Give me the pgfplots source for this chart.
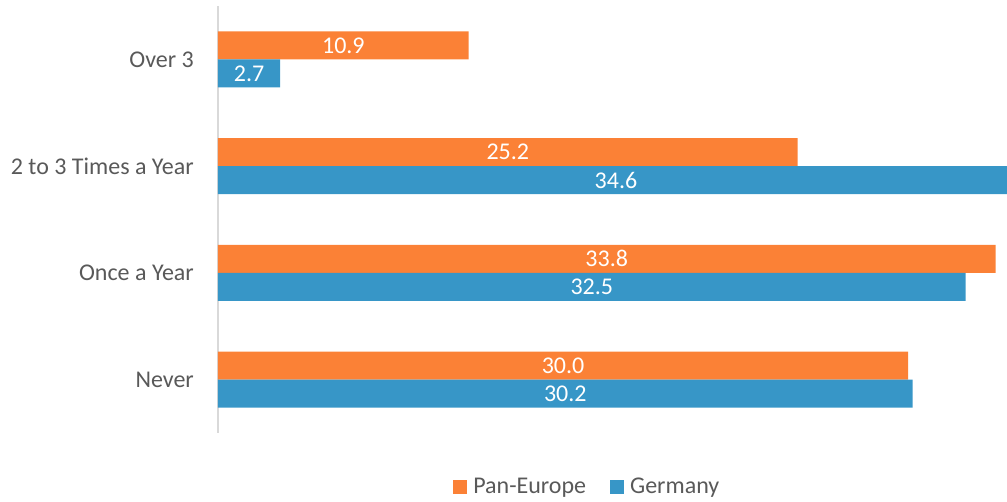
\documentclass[border=0pt]{standalone}
\usepackage{pgfplots}
\pgfplotsset{compat=1.18}
\usepackage{pgfplotstable}
\usepackage{fontspec}
\setmainfont{Carlito}
\definecolor{paneu}{HTML}{FB8136}
\definecolor{germ}{HTML}{3796C7}
\definecolor{txtgray}{HTML}{595959}
\definecolor{axgray}{HTML}{D9D9D9}

% pos: 3 = top category
\pgfplotstableread{
pos pan ger
3 10.9 2.7
2 25.2 34.6
1 33.8 32.5
0 30.0 30.2
}\freq

\begin{document}
\begin{tikzpicture}[font=\fontsize{24}{28}\selectfont]
\path[use as bounding box] (0,0) rectangle (1007pt,502pt);
\begin{axis}[
    at={(218pt,69pt)}, anchor=south west,
    scale only axis,
    width=789pt, height=427pt,
    xmin=0, xmax=34.3,
    ymin=-0.5, ymax=3.5,
    axis x line=none,
    axis y line*=left,
    y axis line style={-, draw=axgray, line width=1.5pt},
    ytick={0,1,2,3},
    yticklabels={Never, Once a Year, 2 to 3 Times a Year, Over 3},
    major tick length=0pt,
    yticklabel style={anchor=east, inner sep=0pt, xshift=-24pt, text=txtgray, font=\fontsize{24}{28}\selectfont},
    /pgf/number format/assume math mode=true,
    legend style={at={(0.468,-0.126)}, anchor=center, draw=none, fill=none,
        legend columns=2, text=txtgray, font=\fontsize{24}{28}\selectfont,
        /tikz/every odd column/.append style={column sep=4pt},
        /tikz/every even column/.append style={column sep=22pt},
        nodes={inner sep=2pt}},
    legend image code/.code={\fill[#1] (0pt,-7pt) rectangle (14pt,7pt);},
]
\addplot[xbar, bar width=28pt, bar shift=14pt, fill=paneu, draw=none]
    table[x=pan, y=pos] \freq;
\addlegendentry{Pan-Europe}
\addplot[xbar, bar width=28pt, bar shift=-14pt, fill=germ, draw=none]
    table[x=ger, y=pos] \freq;
\addlegendentry{Germany}

% value labels centred in the bars
\addplot[forget plot, draw=none, mark=none,
    point meta=explicit,
    nodes near coords={\pgfmathprintnumber[fixed,zerofill,precision=1]{\pgfplotspointmeta}},
    every node near coord/.append style={anchor=center, yshift=14pt, text=white, font=\fontsize{24}{28}\selectfont}]
    table[x expr=\thisrow{pan}/2, y=pos, meta=pan] \freq;
\addplot[forget plot, draw=none, mark=none,
    point meta=explicit,
    nodes near coords={\pgfmathprintnumber[fixed,zerofill,precision=1]{\pgfplotspointmeta}},
    every node near coord/.append style={anchor=center, yshift=-14pt, text=white, font=\fontsize{24}{28}\selectfont}]
    table[x expr=\thisrow{ger}/2, y=pos, meta=ger] \freq;
\end{axis}
\end{tikzpicture}
\end{document}
